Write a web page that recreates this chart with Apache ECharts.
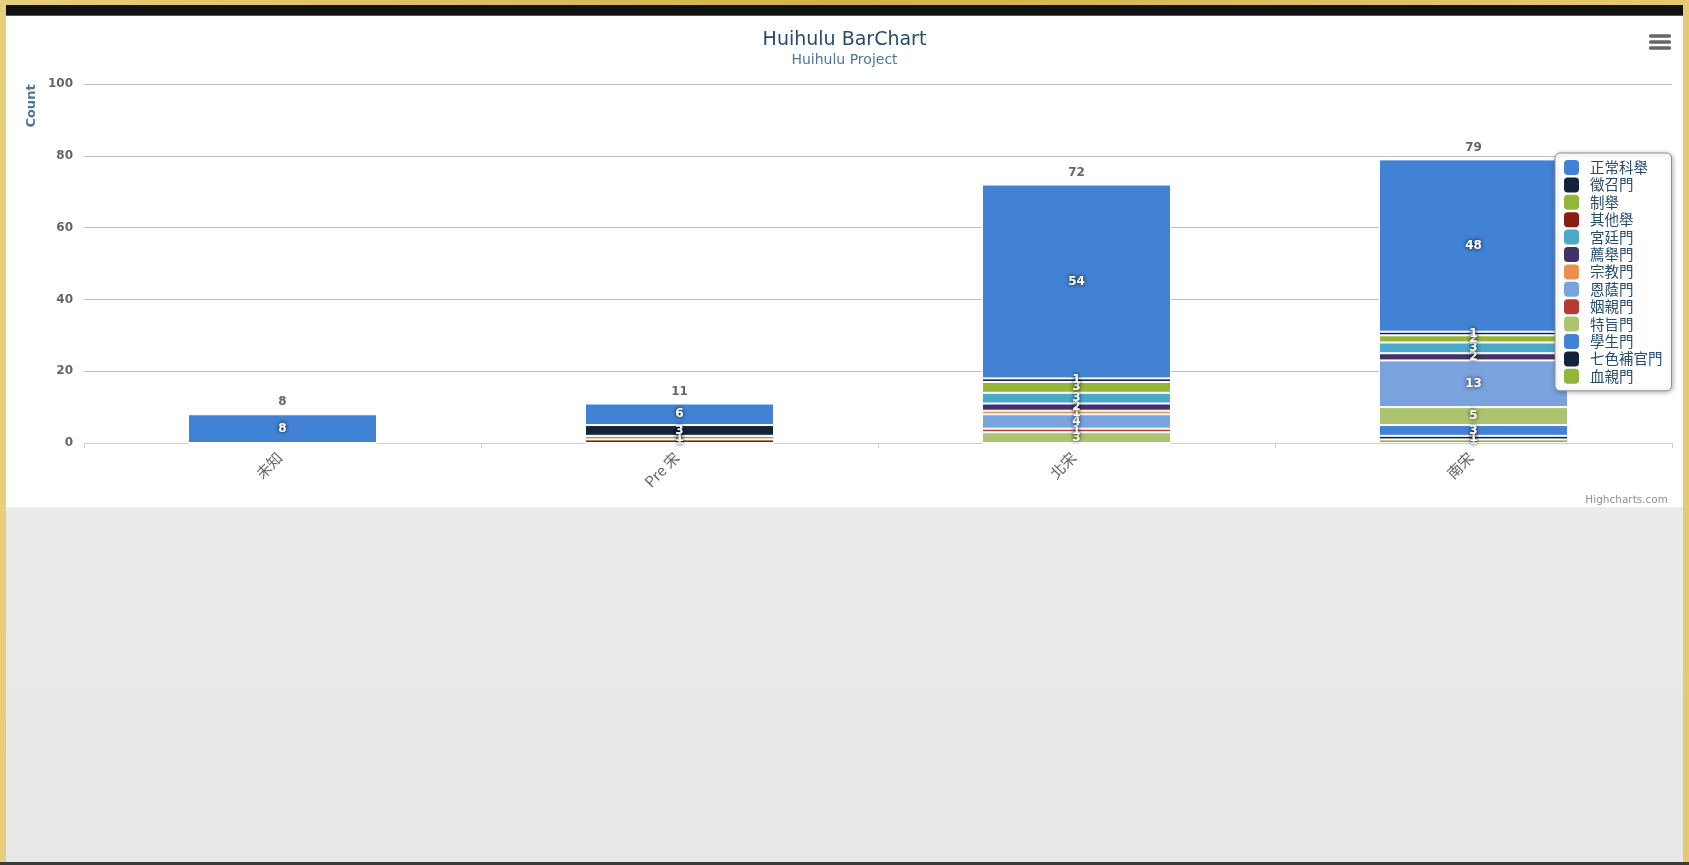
<!DOCTYPE html>
<html>
<head>
<meta charset="utf-8">
<title>Huihulu BarChart</title>
<script src="https://cdn.jsdelivr.net/npm/echarts@6/dist/echarts.min.js"></script>
<style>
  html, body { margin: 0; padding: 0; width: 1689px; height: 865px; overflow: hidden; }
  body { background: linear-gradient(90deg, #e8cf7c 0%, #d4b04a 50%, #e6ca72 100%); position: relative; }
  .topbar { position: absolute; left: 6px; right: 6px; top: 5px; height: 10px; background: #111; border-bottom: 1px solid #555; }
  .page { position: absolute; left: 6px; right: 6px; top: 16px; bottom: 3px; background: linear-gradient(180deg, #efefef 0%, #e8e8e8 100%); }
  #chart { position: absolute; left: 6px; top: 16px; width: 1677px; height: 491px; background: #fff; }
  .bottomline { position: absolute; left: 0; right: 0; bottom: 0; height: 3px; background: #3a3a3a; }
</style>
</head>
<body>
<div class="topbar"></div>
<div class="page"></div>
<div id="chart"></div>
<div class="bottomline"></div>
<script>
// categories (x axis)
const categories = ['未知', 'Pre 宋', '北宋', '南宋'];

// series names, in legend order (first one is drawn on top of the stack)
const seriesNames = ['正常科舉', '徵召門', '制舉', '其他舉', '宮廷門', '薦舉門', '宗教門',
  '恩蔭門', '姻親門', '特旨門', '學生門', '七色補官門', '血親門'];

// values per series, one per category
const zhengchangKeju = [8, 6, 54, 48];
const zhengzhaoMen = [0, 3, 1, 1];
const zhiJu = [0, 1, 3, 2];
const qitaJu = [0, 1, 0, 0];
const gongtingMen = [0, 0, 3, 3];
const jianjuMen = [0, 0, 2, 2];
const zongjiaoMen = [0, 0, 1, 0];
const enyinMen = [0, 0, 4, 13];
const yinqinMen = [0, 0, 1, 0];
const tezhiMen = [0, 0, 3, 5];
const xueshengMen = [0, 0, 0, 3];
const qiseBuguanMen = [0, 0, 0, 1];
const xueqinMen = [0, 0, 0, 1];

const seriesValues = [zhengchangKeju, zhengzhaoMen, zhiJu, qitaJu, gongtingMen, jianjuMen,
  zongjiaoMen, enyinMen, yinqinMen, tezhiMen, xueshengMen, qiseBuguanMen, xueqinMen];

const colors = ['#4282d4', '#14233a', '#92b53a', '#8b1c14', '#4aa9c9', '#433269', '#e8914e',
  '#7aa3de', '#b93a31', '#adc46f', '#4282d4', '#14233a', '#92b53a'];

// y axis ticks
const yMin = 0;
const yMax = 100;
const yStep = 20;

const totals = categories.map((c, i) => seriesValues.reduce((s, arr) => s + arr[i], 0));

const font = "'DejaVu Sans', 'Noto Sans CJK TC', sans-serif";
const chart = echarts.init(document.getElementById('chart'));

// echarts stacks the first series at the bottom, so go backwards
const series = [];
for (let k = seriesNames.length - 1; k >= 0; k--) {
  series.push({
    name: seriesNames[k],
    type: 'bar',
    stack: 'all',
    barWidth: '47.6%',
    data: seriesValues[k],
    itemStyle: { color: colors[k], borderColor: '#ffffff', borderWidth: 1 },
    label: {
      show: true,
      position: 'inside',
      formatter: p => (p.value ? String(p.value) : ''),
      color: '#ffffff',
      fontFamily: font,
      fontWeight: 'bold',
      fontSize: 12,
      textShadowColor: 'rgba(0,0,0,0.9)',
      textShadowBlur: 4
    },
    emphasis: { disabled: true }
  });
}
// stack totals above the bars
series.push({
  name: 'total',
  type: 'bar',
  stack: 'all',
  barWidth: '47.6%',
  data: categories.map(() => 0),
  itemStyle: { color: 'transparent', borderWidth: 0 },
  label: {
    show: true,
    position: 'top',
    distance: 6,
    formatter: p => String(totals[p.dataIndex]),
    color: '#666666',
    fontFamily: font,
    fontWeight: 'bold',
    fontSize: 12
  },
  tooltip: { show: false },
  emphasis: { disabled: true }
});

const option = {
  animation: false,
  color: colors,
  textStyle: { fontFamily: font },
  title: [
    {
      text: 'Huihulu BarChart',
      subtext: 'Huihulu Project',
      left: 'center',
      top: 10,
      itemGap: 3,
      textStyle: { color: '#274b6d', fontSize: 19, fontWeight: 'normal', fontFamily: font },
      subtextStyle: { color: '#4d759e', fontSize: 14, fontFamily: font }
    },
    {
      text: 'Highcharts.com',
      right: 10,
      top: 474,
      textStyle: { color: '#909090', fontSize: 10.5, fontWeight: 'normal', fontFamily: font }
    }
  ],
  tooltip: { trigger: 'item' },
  legend: {
    orient: 'vertical',
    left: 1549,
    top: 137,
    data: seriesNames,
    icon: 'roundRect',
    itemWidth: 15,
    itemHeight: 15,
    itemGap: 2.4,
    itemStyle: { borderWidth: 0 },
    padding: [7, 9, 7, 9],
    backgroundColor: '#ffffff',
    borderColor: '#909090',
    borderWidth: 1,
    borderRadius: 5,
    shadowColor: 'rgba(0,0,0,0.3)',
    shadowBlur: 5,
    shadowOffsetX: 1,
    shadowOffsetY: 1,
    selectedMode: false,
    textStyle: {
      color: '#274b6d',
      fontSize: 14.5,
      lineHeight: 15,
      padding: [0, 0, 0, 6],
      fontFamily: "'Noto Sans CJK TC', sans-serif"
    }
  },
  grid: { left: 78, right: 11, top: 68, bottom: 64 },
  xAxis: {
    type: 'category',
    data: categories,
    axisLine: { lineStyle: { color: '#c0d0e0', width: 1 } },
    axisTick: { show: true, length: 5, lineStyle: { color: '#c0d0e0' } },
    axisLabel: {
      rotate: 45,
      margin: 9,
      padding: [0, 4, 0, 0],
      color: '#666666',
      fontSize: 15,
      fontFamily: "'Noto Sans CJK TC', sans-serif"
    }
  },
  yAxis: {
    type: 'value',
    min: yMin,
    max: yMax,
    interval: yStep,
    axisLine: { show: false },
    axisTick: { show: false },
    axisLabel: { color: '#666666', fontSize: 12, fontWeight: 'bold', margin: 11, fontFamily: font },
    splitLine: { lineStyle: { color: '#c0c0c0', width: 1 } }
  },
  graphic: [
    {
      type: 'text',
      x: 25.5,
      y: 90,
      rotation: Math.PI / 2,
      style: {
        text: 'Count',
        align: 'center',
        verticalAlign: 'middle',
        fill: '#4d759e',
        font: "bold 13px 'DejaVu Sans', sans-serif"
      }
    },
    // context menu icon
    { type: 'rect', shape: { x: 1643, y: 18.3, width: 22, height: 3.4, r: 1.5 }, style: { fill: '#666666' } },
    { type: 'rect', shape: { x: 1643, y: 24.3, width: 22, height: 3.4, r: 1.5 }, style: { fill: '#666666' } },
    { type: 'rect', shape: { x: 1643, y: 30.3, width: 22, height: 3.4, r: 1.5 }, style: { fill: '#666666' } }
  ],
  series: series
};

chart.setOption(option);
</script>
</body>
</html>
